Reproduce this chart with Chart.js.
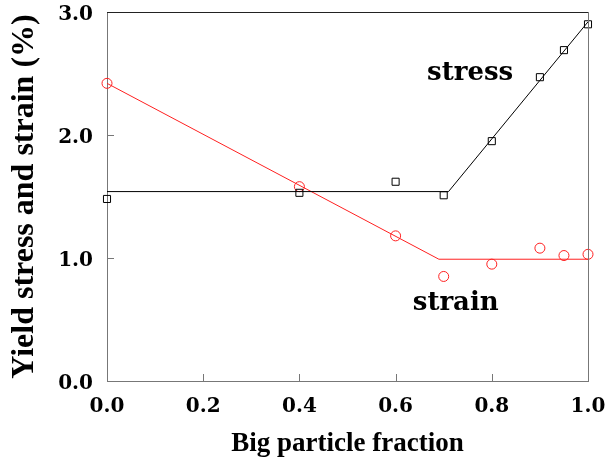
<!DOCTYPE html>
<html>
<head>
<meta charset="utf-8">
<script src="https://cdn.jsdelivr.net/npm/chart.js@4"></script>
<style>
  html, body { margin: 0; padding: 0; background: #fff; }
  #wrap { width: 607px; height: 466px; }
</style>
</head>
<body>
<div id="wrap"><canvas id="c" width="607" height="466"></canvas></div>
<script>
// measured points
const fraction = [0, 0.4, 0.6, 0.7, 0.8, 0.9, 0.95, 1.0];
const stress = [1.48, 1.53, 1.62, 1.51, 1.95, 2.47, 2.69, 2.90];
const strain = [2.42, 1.58, 1.18, 0.85, 0.95, 1.08, 1.02, 1.03];

// fitted bilinear lines
const stressFitX = [0, 0.71, 1.0];
const stressFitY = [1.54, 1.54, 2.92];
const strainFitX = [0, 0.69, 1.0];
const strainFitY = [2.42, 0.99, 0.99];

const xTicks = [0, 0.2, 0.4, 0.6, 0.8, 1.0];
const yTicks = [0, 1, 2, 3];

const pts = (xs, ys) => xs.map((x, i) => ({ x: x, y: ys[i] }));
const TITLE_FONT = '"Liberation Serif", "DejaVu Serif", serif';
const TICK_FONT = '"DejaVu Serif", "Liberation Serif", serif';

// inward ticks, frame and series labels
const decor = {
  id: 'decor',
  afterDraw(chart) {
    const { ctx, chartArea: a, scales: { x, y } } = chart;
    ctx.save();
    ctx.lineWidth = 1;
    ctx.strokeStyle = '#777';
    ctx.beginPath();
    xTicks.slice(1, -1).forEach(v => {
      const px = Math.round(x.getPixelForValue(v)) + 0.5;
      ctx.moveTo(px, a.bottom); ctx.lineTo(px, a.bottom - 7);
    });
    yTicks.slice(1, -1).forEach(v => {
      const py = Math.round(y.getPixelForValue(v)) + 0.5;
      ctx.moveTo(a.left, py); ctx.lineTo(a.left + 7, py);
    });
    ctx.stroke();
    // top and right frame
    ctx.strokeStyle = '#222';
    ctx.beginPath();
    ctx.moveTo(a.left, a.top + 0.5); ctx.lineTo(a.right, a.top + 0.5);
    ctx.stroke();
    ctx.strokeStyle = '#777';
    ctx.beginPath();
    ctx.moveTo(a.right + 0.5, a.top); ctx.lineTo(a.right + 0.5, a.bottom);
    ctx.stroke();

    ctx.fillStyle = '#000';
    ctx.font = 'bold 26px ' + TICK_FONT;
    ctx.textAlign = 'center';
    ctx.textBaseline = 'middle';
    ctx.fillText('stress', x.getPixelForValue(0.755), y.getPixelForValue(2.50));
    ctx.fillText('strain', x.getPixelForValue(0.725), y.getPixelForValue(0.63));
    ctx.restore();
  }
};

new Chart(document.getElementById('c').getContext('2d'), {
  type: 'scatter',
  data: {
    datasets: [
      {
        label: 'stress fit',
        data: pts(stressFitX, stressFitY),
        showLine: true,
        borderColor: '#000',
        borderWidth: 1,
        pointRadius: 0,
        clip: false
      },
      {
        label: 'strain fit',
        data: pts(strainFitX, strainFitY),
        showLine: true,
        borderColor: '#ff2020',
        borderWidth: 1,
        pointRadius: 0,
        clip: false
      },
      {
        label: 'stress',
        data: pts(fraction, stress),
        pointStyle: 'rect',
        pointRadius: 5,
        borderColor: '#000',
        backgroundColor: 'rgba(0,0,0,0)',
        borderWidth: 1,
        clip: false
      },
      {
        label: 'strain',
        data: pts(fraction, strain),
        pointStyle: 'circle',
        pointRadius: 5,
        borderColor: '#ff2020',
        backgroundColor: 'rgba(0,0,0,0)',
        borderWidth: 1,
        clip: false
      }
    ]
  },
  options: {
    responsive: false,
    animation: false,
    layout: { padding: { left: 0, right: 19, top: 12, bottom: 0 } },
    plugins: { legend: { display: false }, tooltip: { enabled: false } },
    scales: {
      x: {
        type: 'linear',
        min: 0, max: 1,
        afterBuildTicks: s => { s.ticks = xTicks.map(v => ({ value: v })); },
        afterFit: s => { s.height = 85; s.paddingLeft = 0; s.paddingRight = 0; },
        grid: { display: false, drawTicks: false },
        border: { display: true, color: '#777', width: 1 },
        ticks: {
          color: '#000',
          font: { family: TICK_FONT, size: 20, weight: 'bold' },
          padding: 14,
          maxRotation: 0,
          callback: v => v.toFixed(1)
        },
        title: {
          display: true,
          text: 'Big particle fraction',
          color: '#000',
          font: { family: TITLE_FONT, size: 27, weight: 'bold' },
          padding: { top: 4, bottom: 6 }
        }
      },
      y: {
        type: 'linear',
        min: 0, max: 3,
        afterBuildTicks: s => { s.ticks = yTicks.map(v => ({ value: v })); },
        afterFit: s => { s.width = 107; s.paddingTop = 0; s.paddingBottom = 0; },
        grid: { display: false, drawTicks: false },
        border: { display: true, color: '#777', width: 1 },
        ticks: {
          color: '#000',
          font: { family: TICK_FONT, size: 20, weight: 'bold' },
          padding: 14,
          labelOffset: 3,
          callback: v => v.toFixed(1)
        },
        title: {
          display: true,
          text: 'Yield stress and strain (%)',
          color: '#000',
          font: { family: TITLE_FONT, size: 32, weight: 'bold' },
          padding: { top: 6, bottom: 0 }
        }
      }
    }
  },
  plugins: [decor]
});
</script>
</body>
</html>
